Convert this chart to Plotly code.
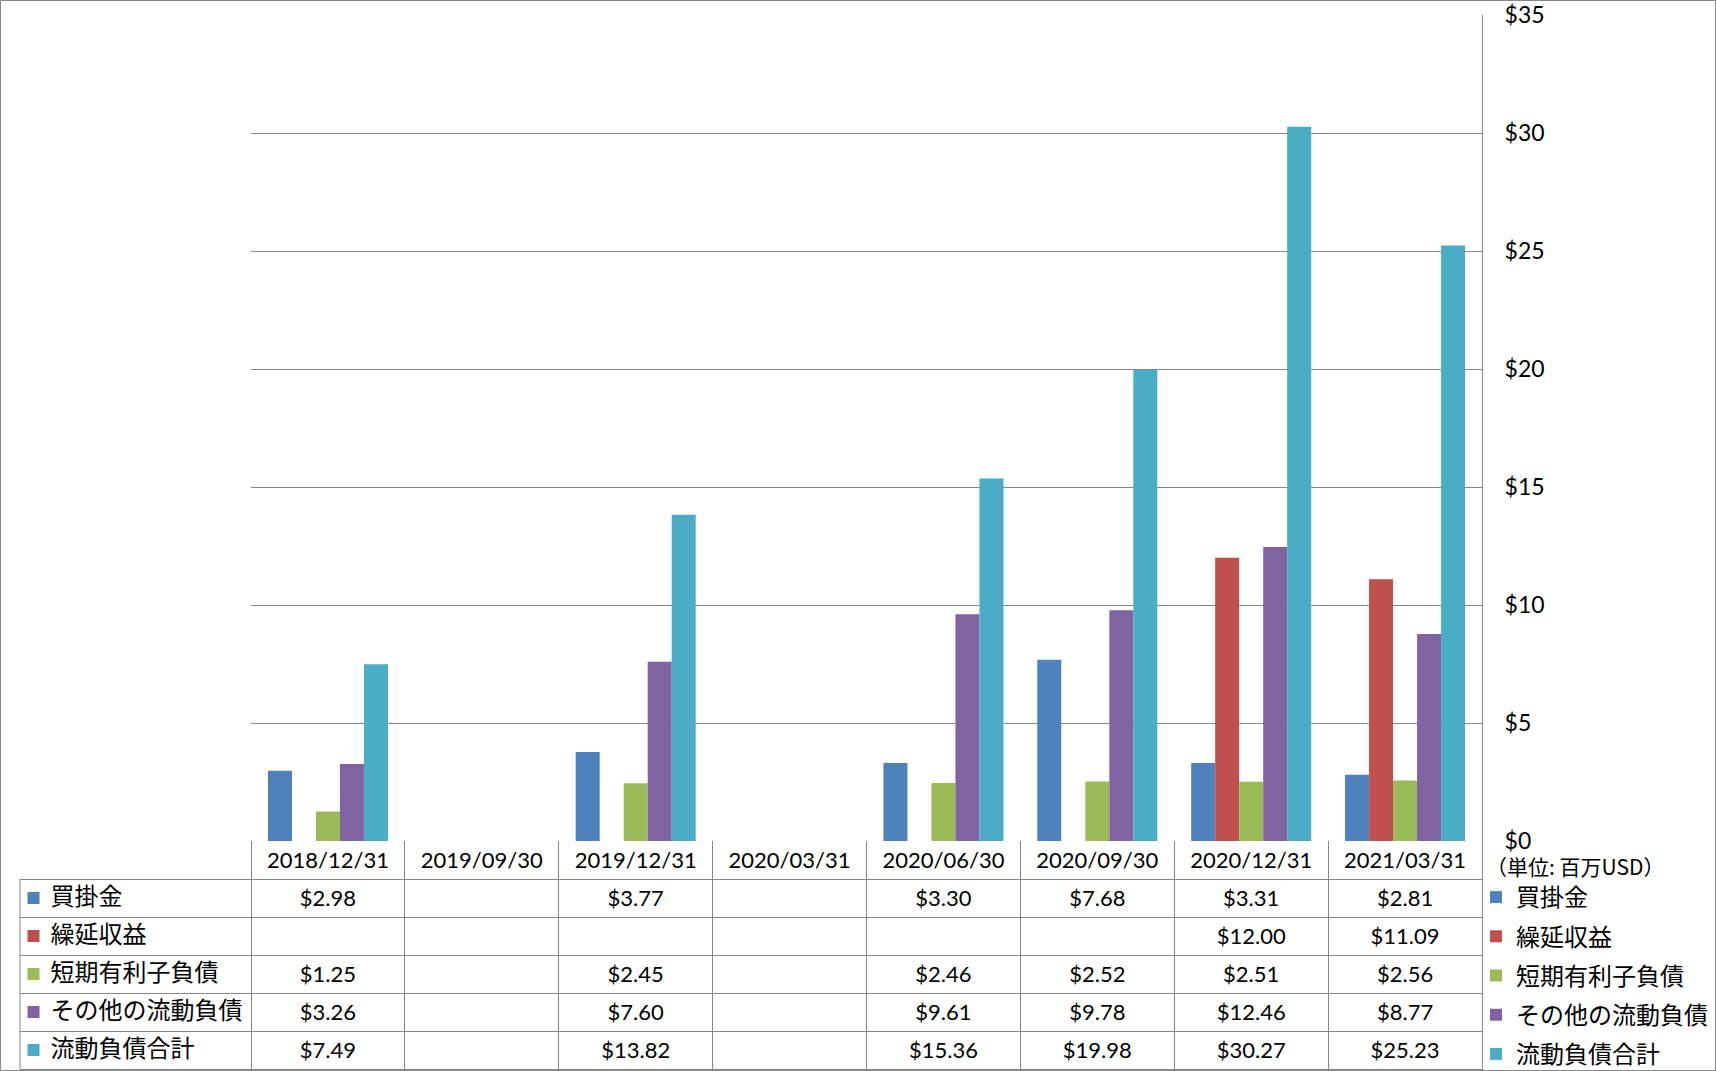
import plotly.graph_objects as go

# ---------------- data ----------------
dates = ["2018/12/31", "2019/09/30", "2019/12/31", "2020/03/31",
         "2020/06/30", "2020/09/30", "2020/12/31", "2021/03/31"]
series_names = ["買掛金", "繰延収益", "短期有利子負債", "その他の流動負債", "流動負債合計"]
accounts_payable = [2.98, None, 3.77, None, 3.30, 7.68, 3.31, 2.81]
deferred_revenue = [None, None, None, None, None, None, 12.00, 11.09]
short_term_debt = [1.25, None, 2.45, None, 2.46, 2.52, 2.51, 2.56]
other_current = [3.26, None, 7.60, None, 9.61, 9.78, 12.46, 8.77]
total_current = [7.49, None, 13.82, None, 15.36, 19.98, 30.27, 25.23]
y_tick_values = [0, 5, 10, 15, 20, 25, 30, 35]
y_tick_labels = ["$0", "$5", "$10", "$15", "$20", "$25", "$30", "$35"]
unit_label = "（単位: 百万USD）"
colors = ["#4F81BD", "#C0504D", "#9BBB59", "#8064A2", "#4BACC6"]

series_values = [accounts_payable, deferred_revenue, short_term_debt,
                 other_current, total_current]

# ---------------- layout geometry (pixels) ----------------
W, H = 1716, 1071
M_L, M_R, M_T, M_B = 20, 234, 15, 2
plot_w = W - M_L - M_R
plot_h = H - M_T - M_B
bar_left_px = 251
axis_bottom_px = 841
grid_col = "#878787"
NUM_FONT = "Lato, Noto Sans CJK JP, sans-serif"
JP_FONT = "Noto Sans CJK JP, sans-serif"


def px_x(x):
    return (x - M_L) / plot_w


def px_y(y):
    return (H - M_B - y) / plot_h


n_cat = len(dates)
n_rows = len(series_names) + 1          # header + one row per series
col_px = (W - M_R - bar_left_px) / n_cat
row_px = (H - M_B - axis_bottom_px) / n_rows
label_cols = (bar_left_px - M_L) / col_px   # width of the label column, in column units
x2_min = -0.5 - label_cols
text_dy = 2.2 / row_px                     # small downward nudge of the cell text

fig = go.Figure()

# ---------------- bars ----------------
for name, vals, col in zip(series_names, series_values, colors):
    fig.add_trace(go.Bar(
        x=dates, y=vals, name=name, marker=dict(color=col, line=dict(width=0)),
        legendgroup=name, xaxis="x", yaxis="y",
    ))

# ---------------- data table (text on its own axes) ----------------
def fmt(v):
    return "" if v is None else f"${v:.2f}"

# header: dates
fig.add_trace(go.Scatter(
    x=list(range(n_cat)), y=[0.5 + text_dy] * n_cat, text=dates, mode="text",
    textposition="middle center", xaxis="x2", yaxis="y2",
    textfont=dict(family=NUM_FONT, size=22, color="#000000"),
    showlegend=False, hoverinfo="skip", cliponaxis=False,
))

# values
vx, vy, vt = [], [], []
for r, vals in enumerate(series_values):
    for i, v in enumerate(vals):
        vx.append(i)
        vy.append(r + 1.5 + text_dy)
        vt.append(fmt(v))
fig.add_trace(go.Scatter(
    x=vx, y=vy, text=vt, mode="text", textposition="middle center",
    xaxis="x2", yaxis="y2",
    textfont=dict(family=NUM_FONT, size=22, color="#000000"),
    showlegend=False, hoverinfo="skip", cliponaxis=False,
))

# label column: coloured squares
sq_x = x2_min + 13.5 / col_px
fig.add_trace(go.Scatter(
    x=[sq_x] * len(series_names), y=[r + 1.5 for r in range(len(series_names))],
    mode="markers",
    marker=dict(symbol="square", size=12, color=colors, line=dict(width=0)),
    xaxis="x2", yaxis="y2",
    showlegend=False, hoverinfo="skip", cliponaxis=False,
))
# label column: series names
name_x = x2_min + 30.5 / col_px
fig.add_trace(go.Scatter(
    x=[name_x] * len(series_names),
    y=[r + 1.5 + text_dy / 2 for r in range(len(series_names))],
    text=series_names, mode="text", textposition="middle right",
    xaxis="x2", yaxis="y2",
    textfont=dict(family=JP_FONT, size=24, color="#000000"),
    showlegend=False, hoverinfo="skip", cliponaxis=False,
))

fig.update_layout(
    width=W, height=H,
    margin=dict(l=M_L, r=M_R, t=M_T, b=M_B, pad=0, autoexpand=False),
    paper_bgcolor="white", plot_bgcolor="white",
    barmode="group", bargap=0.22, bargroupgap=0,
    font=dict(family=NUM_FONT, color="#000000"),
    xaxis=dict(
        domain=[px_x(bar_left_px), 1], anchor="y",
        type="category", categoryorder="array", categoryarray=dates,
        range=[-0.5, n_cat - 0.5],
        showticklabels=False, showgrid=False, zeroline=False,
        showline=False, ticks="",
    ),
    yaxis=dict(
        domain=[px_y(axis_bottom_px), 1], anchor="x",
        side="right", range=[0, 35],
        tickmode="array", tickvals=y_tick_values, ticktext=y_tick_labels,
        showgrid=True, gridcolor=grid_col, gridwidth=1,
        zeroline=False, showline=True, linecolor=grid_col, linewidth=1,
        ticks="", ticklabelstandoff=17,
        tickfont=dict(family=NUM_FONT, size=23, color="#000000"),
    ),
    xaxis2=dict(
        domain=[0, 1], anchor="y2", range=[x2_min, n_cat - 0.5],
        tickmode="array", tickvals=[i - 0.5 for i in range(n_cat)],
        showgrid=True, gridcolor=grid_col, gridwidth=1,
        showticklabels=False, ticks="", zeroline=False,
        showline=True, linecolor=grid_col, linewidth=1, side="bottom",
    ),
    yaxis2=dict(
        domain=[0, px_y(axis_bottom_px)], anchor="x2", range=[n_rows, 0],
        tickmode="array", tickvals=list(range(1, n_rows)),
        showgrid=True, gridcolor=grid_col, gridwidth=1,
        showticklabels=False, ticks="", zeroline=False,
        showline=True, linecolor=grid_col, linewidth=1, side="right",
    ),
    legend=dict(
        x=px_x(1476), y=px_y(875), xanchor="left", yanchor="top",
        traceorder="grouped", tracegroupgap=5,
        font=dict(family=JP_FONT, size=24, color="#000000"),
        bgcolor="rgba(0,0,0,0)", borderwidth=0,
    ),
    showlegend=True,
    annotations=[dict(
        text=unit_label, xref="paper", yref="paper",
        x=px_x(1484), y=px_y(866), xanchor="left", yanchor="middle",
        showarrow=False, font=dict(family=JP_FONT, size=21, color="#000000"),
    )],
    shapes=[
        dict(type="line", xref="paper", yref="y2", x0=0, x1=0, y0=1, y1=n_rows,
             line=dict(color=grid_col, width=1), layer="above"),
        dict(type="rect", xref="paper", yref="paper",
             x0=px_x(0.5), x1=px_x(W - 0.5), y0=px_y(H - 0.5), y1=px_y(0.5),
             line=dict(color=grid_col, width=1), fillcolor="rgba(0,0,0,0)",
             layer="above"),
    ],
)

fig.write_html(
    "out.html",
    config={"displayModeBar": False},
    post_script="document.body.style.margin='0';document.body.style.overflow='hidden';",
)
